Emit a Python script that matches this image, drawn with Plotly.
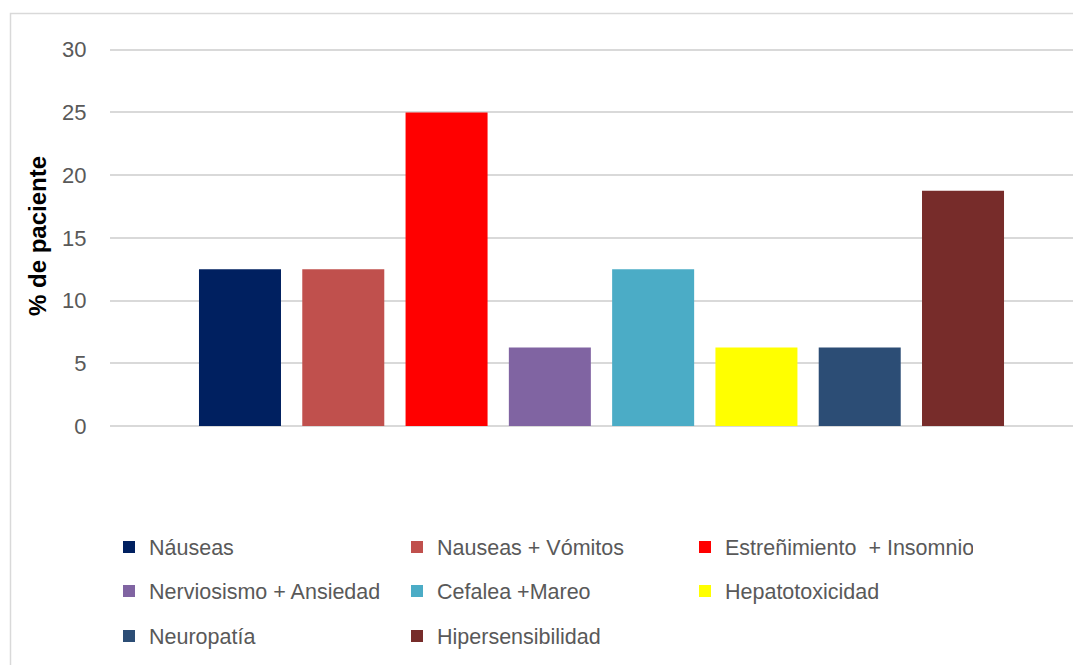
import plotly.graph_objects as go

categories = ["Náuseas", "Nauseas + Vómitos", "Estreñimiento  + Insomnio",
              "Nerviosismo + Ansiedad", "Cefalea +Mareo", "Hepatotoxicidad",
              "Neuropatía", "Hipersensibilidad"]
values = [12.5, 12.5, 25, 6.25, 12.5, 6.25, 6.25, 18.75]
colors = ["#002060", "#C0504D", "#FF0000", "#8064A2", "#4BACC6",
          "#FFFF00", "#2C4D75", "#772C2A"]
legend_rows = ["legend", "legend", "legend", "legend2", "legend2", "legend2",
               "legend3", "legend3"]
y_ticks = [0, 5, 10, 15, 20, 25, 30]
y_title = "% de paciente"

FONT = "Liberation Sans, Arial, sans-serif"
OFF = 8  # page body margin
W, H = 1081 - OFF, 665 - OFF
Y_TOP = 30.3
ML = 110 - OFF
PLOT_BOTTOM = 426 - OFF
PX_PER_UNIT = 376 / 30
MT = int(round(PLOT_BOTTOM - Y_TOP * PX_PER_UNIT))
MB = H - PLOT_BOTTOM
plot_w = W - ML
plot_h = PLOT_BOTTOM - MT

fig = go.Figure()
for name, v, c, lg in zip(categories, values, colors, legend_rows):
    fig.add_trace(go.Bar(x=[0], y=[v], name=name, marker_color=c,
                         marker_line_width=0, legend=lg))

# x range so that the bar group sits where it does in the original
bargap = 0.15
cat_px = 8 * 103.29 / (1 - bargap)
center_px = 601.5 - OFF
x_lo = (ML - center_px) / cat_px
x_hi = (W - center_px) / cat_px


def py(ref_pix):
    return (PLOT_BOTTOM - (ref_pix - OFF)) / plot_h


def px(ref_pix):
    return ((ref_pix - OFF) - ML) / plot_w


def cy(ref_pix):
    return 1 - (ref_pix - OFF) / H


def cx(ref_pix):
    return (ref_pix - OFF) / W


leg_common = dict(orientation="h", xanchor="left", yanchor="middle",
                  xref="container", yref="container",
                  entrywidth=243, entrywidthmode="pixels",
                  font=dict(family=FONT, size=21.5, color="#595959"),
                  bgcolor="rgba(0,0,0,0)", traceorder="normal")

LEG_X = 109
fig.update_layout(
    width=W, height=H,
    margin=dict(l=ML, r=0, t=MT, b=MB, pad=0),
    paper_bgcolor="white", plot_bgcolor="white",
    barmode="group", bargap=bargap, bargroupgap=0.206,
    font=dict(family=FONT, color="#595959"),
    xaxis=dict(range=[x_lo, x_hi], showticklabels=False, showgrid=False,
               zeroline=False, showline=False, ticks="", fixedrange=True),
    yaxis=dict(range=[0, Y_TOP], tickvals=y_ticks, showgrid=True,
               gridcolor="#D9D9D9", gridwidth=1.5, zeroline=True,
               zerolinecolor="#D9D9D9", zerolinewidth=1.5,
               showline=False, ticks="outside", ticklen=18,
               tickcolor="rgba(0,0,0,0)",
               tickfont=dict(family=FONT, size=22, color="#595959"),
               title=dict(text=y_title, standoff=8,
                          font=dict(family=FONT, size=24, color="black",
                                    weight="bold"))),
    legend=dict(x=cx(LEG_X), y=cy(547), **leg_common),
    legend2=dict(x=cx(LEG_X), y=cy(591), **leg_common),
    legend3=dict(x=cx(LEG_X), y=cy(636), **leg_common),
    shapes=[dict(type="rect", xref="paper", yref="paper",
                 x0=px(10.5), x1=px(1200), y0=py(800), y1=py(13.5),
                 line=dict(color="#D9D9D9", width=1.5),
                 fillcolor="rgba(0,0,0,0)", layer="below")],
)

fig.write_html("out.html")
